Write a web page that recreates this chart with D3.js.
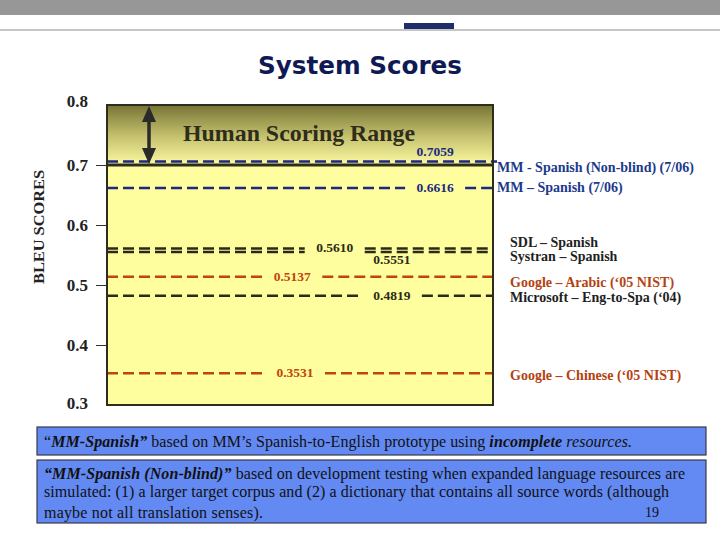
<!DOCTYPE html>
<html><head><meta charset="utf-8">
<script src="https://cdn.jsdelivr.net/npm/d3@7"></script>
<style>body{margin:0;background:#fff}svg{display:block}</style>
</head><body><svg id="c" width="720" height="540"></svg>
<script>
// ---- data ----
const systems = ["MM - Spanish (Non-blind) (7/06)", "MM \u2013 Spanish (7/06)", "SDL \u2013 Spanish", "Systran \u2013 Spanish", "Google \u2013 Arabic (\u201805 NIST)", "Microsoft \u2013 Eng-to-Spa (\u201804)", "Google \u2013 Chinese (\u201805 NIST)"];
const scores = [0.7059, 0.6616, 0.5610, 0.5551, 0.5137, 0.4819, 0.3531];
const groups = ["mm", "mm", "other", "other", "google", "other", "google"];
const yTicks = [0.3, 0.4, 0.5, 0.6, 0.7, 0.8];
const humanRange = [0.7, 0.8];

// ---- layout (not data) ----
const labelFrac = [0.85, 0.85, 0.59, 0.738, 0.48, 0.738, 0.487];
const labelMode = ["above", "center", "center", "below", "center", "center", "center"];
const gapFracs = [[], [0.85], [0.59], [0.59], [0.48], [0.738], [0.487]];
const legendDy = [6, -1, -6, 5, 6, 2, 2];
const lineCol = {mm: "#1b2a80", other: "#2b2a18", google: "#c0440c"};
const textCol = {mm: "#1b3a8c", other: "#1e1e1e", google: "#b4420f"};
const serif = "'Liberation Serif', 'Times New Roman', Times, serif";

const svg = d3.select("#c");
const L = 107, R = 493, T = 105, B = 405;
const y = d3.scaleLinear().domain([0.3, 0.8]).range([B, T]);
const xf = d3.scaleLinear().domain([0, 1]).range([L, R]);

// header
svg.append("rect").attr("x", 0).attr("y", 0).attr("width", 720).attr("height", 15).attr("fill", "#979797");
svg.append("rect").attr("x", 0).attr("y", 29).attr("width", 720).attr("height", 2).attr("fill", "#c6c6c6");
svg.append("rect").attr("x", 404).attr("y", 23).attr("width", 50).attr("height", 6).attr("fill", "#1f2d6b");

// title
svg.append("text").attr("x", 360).attr("y", 74).attr("text-anchor", "middle")
  .style("font-family", "Verdana, 'DejaVu Sans', sans-serif").attr("font-weight", "bold")
  .attr("font-size", 25).attr("fill", "#0f1a55").attr("textLength", 204).attr("lengthAdjust", "spacingAndGlyphs")
  .text("System Scores");

// gradient
const defs = svg.append("defs");
const g = defs.append("linearGradient").attr("id", "hg").attr("x1", 0).attr("y1", 0).attr("x2", 0).attr("y2", 1);
g.append("stop").attr("offset", "0%").attr("stop-color", "#767436");
g.append("stop").attr("offset", "50%").attr("stop-color", "#c2be6c");
g.append("stop").attr("offset", "100%").attr("stop-color", "#fdfaa2");

// plot background
svg.append("rect").attr("x", L).attr("y", T).attr("width", R - L).attr("height", B - T).attr("fill", "#fefe9e");
svg.append("rect").attr("x", L).attr("y", y(humanRange[1])).attr("width", R - L)
  .attr("height", y(humanRange[0]) - y(humanRange[1])).attr("fill", "url(#hg)");

svg.append("text").attr("x", 299).attr("y", 141).attr("text-anchor", "middle")
  .style("font-family", serif).attr("font-weight", "bold")
  .attr("font-size", 24).attr("fill", "#2e2d1c").attr("textLength", 232).attr("lengthAdjust", "spacingAndGlyphs")
  .text("Human Scoring Range");

// axis
const yAxis = d3.axisLeft(y).tickValues(yTicks).tickFormat(d3.format(".1f")).tickSize(11).tickPadding(8);
const ax = svg.append("g").attr("transform", `translate(${L},0)`).call(yAxis);
ax.select(".domain").remove();
ax.selectAll(".tick line").attr("stroke", "#333").attr("stroke-width", 1)
  .attr("display", d => (d === 0.3 || d === 0.8) ? "none" : null);
ax.selectAll(".tick text").style("font-family", serif)
  .attr("font-weight", "bold").attr("font-size", 17).attr("fill", "#222")
  .attr("dy", d => d === 0.8 ? "0.1em" : (d === 0.3 ? "0.2em" : "0.32em"));

svg.append("text").attr("transform", "translate(44,227) rotate(-90)").attr("text-anchor", "middle")
  .style("font-family", serif).attr("font-weight", "bold")
  .attr("font-size", 15).attr("fill", "#222").attr("textLength", 114).attr("lengthAdjust", "spacingAndGlyphs")
  .text("BLEU SCORES");

// score lines
const lineG = svg.append("g");
scores.forEach((s, i) => {
  const yy = y(s);
  const cx = xf(labelFrac[i]);
  const col = lineCol[groups[i]];
  const endX = groups[i] === "mm" ? R + 4 : R;
  const lbl = s.toFixed(4);
  const gap = 30;
  const segs = [];
  let start = L;
  gapFracs[i].forEach(f => { segs.push([start, xf(f) - gap]); start = xf(f) + gap; });
  segs.push([start, endX]);
  segs.forEach(sg => {
    lineG.append("line").attr("x1", sg[0]).attr("x2", sg[1]).attr("y1", yy).attr("y2", yy)
      .attr("stroke", col).attr("stroke-width", 2.5).attr("stroke-dasharray", "11,5");
  });
  const ty = labelMode[i] === "above" ? yy - 5 : labelMode[i] === "below" ? yy + 12 : yy + 4;
  lineG.append("text").attr("x", cx).attr("y", ty).attr("text-anchor", "middle")
    .style("font-family", serif).attr("font-weight", "bold")
    .attr("font-size", 13.5).attr("fill", col).text(lbl);
  // legend labels
  svg.append("text").attr("x", groups[i] === "mm" ? 497 : 510).attr("y", yy + legendDy[i] + 4.5)
    .style("font-family", serif).attr("font-weight", "bold")
    .attr("font-size", 14).attr("fill", textCol[groups[i]]).text(systems[i]);
});

// solid line at human range bottom
svg.append("line").attr("x1", L).attr("x2", R).attr("y1", y(humanRange[0])).attr("y2", y(humanRange[0]))
  .attr("stroke", "#2e2d1c").attr("stroke-width", 3);

// double arrow
const axx = 149, a1 = y(humanRange[1]) + 1, a2 = y(humanRange[0]) - 1;
svg.append("line").attr("x1", axx).attr("x2", axx).attr("y1", a1 + 12).attr("y2", a2 - 12)
  .attr("stroke", "#2a2a2a").attr("stroke-width", 3.5);
svg.append("path").attr("d", `M${axx},${a1} L${axx - 7},${a1 + 16} L${axx + 7},${a1 + 16} Z`).attr("fill", "#2a2a2a");
svg.append("path").attr("d", `M${axx},${a2} L${axx - 7},${a2 - 16} L${axx + 7},${a2 - 16} Z`).attr("fill", "#2a2a2a");

// plot border
svg.append("rect").attr("x", L).attr("y", T).attr("width", R - L).attr("height", B - T)
  .attr("fill", "none").attr("stroke", "#2e2d1c").attr("stroke-width", 2);

// notes boxes
svg.append("rect").attr("x", 37).attr("y", 427).attr("width", 669).attr("height", 28)
  .attr("fill", "#6389f2").attr("stroke", "#3a3a4a").attr("stroke-width", 1.2);
svg.append("rect").attr("x", 37).attr("y", 460).attr("width", 669).attr("height", 63)
  .attr("fill", "#6389f2").attr("stroke", "#3a3a4a").attr("stroke-width", 1.2);

const fs = 16;
const t1 = svg.append("text").attr("x", 44).attr("y", 447).style("font-family", serif).attr("font-size", fs).attr("fill", "#111")
  .attr("textLength", 588).attr("lengthAdjust", "spacing");
t1.append("tspan").text("\u201c");
t1.append("tspan").attr("font-weight", "bold").attr("font-style", "italic").text("MM-Spanish\u201d");
t1.append("tspan").text(" based on MM\u2019s Spanish-to-English prototype using ");
t1.append("tspan").attr("font-weight", "bold").attr("font-style", "italic").text("incomplete");
t1.append("tspan").attr("font-style", "italic").text(" resources.");

const t2 = svg.append("text").attr("x", 44).attr("y", 479).style("font-family", serif).attr("font-size", fs).attr("fill", "#111")
  .attr("textLength", 641).attr("lengthAdjust", "spacing");
t2.append("tspan").attr("font-weight", "bold").attr("font-style", "italic").text("\u201cMM-Spanish (Non-blind)\u201d");
t2.append("tspan").text(" based on development testing when expanded language resources are");
svg.append("text").attr("x", 44).attr("y", 497).style("font-family", serif).attr("font-size", fs).attr("fill", "#111")
  .attr("textLength", 625).attr("lengthAdjust", "spacing")
  .text("simulated: (1) a larger target corpus and (2) a dictionary that contains all source words (although");
svg.append("text").attr("x", 44).attr("y", 518).style("font-family", serif).attr("font-size", fs).attr("fill", "#111")
  .attr("textLength", 219).attr("lengthAdjust", "spacing")
  .text("maybe not all translation senses).");
svg.append("text").attr("x", 645).attr("y", 517).style("font-family", serif).attr("font-size", 14).attr("fill", "#111").text("19");
</script></body></html>
